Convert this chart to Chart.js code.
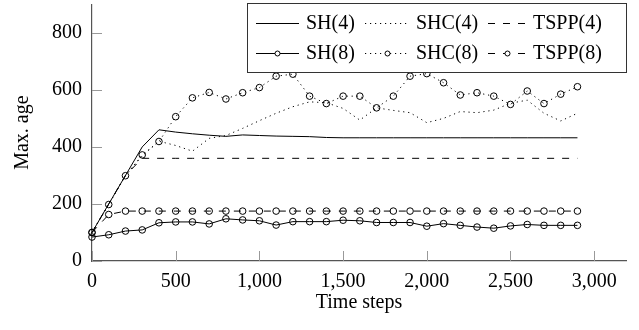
<!DOCTYPE html>
<html><head><meta charset="utf-8">
<script src="https://cdn.jsdelivr.net/npm/chart.js@4.4.1/dist/chart.umd.min.js"></script>
<style>html,body{margin:0;padding:0;background:#fff}#wrap{width:639px;height:330px}</style>
</head><body><div id="wrap"><canvas id="c" width="639" height="330"></canvas></div>
<script>
const steps  = [0,100,200,300,400,500,600,700,800,900,1000,1100,1200,1300,1400,1500,1600,1700,1800,1900,2000,2100,2200,2300,2400,2500,2600,2700,2800,2900];
const sh4    = [100,200,300,400,460,452,446,441,437,442,440,438,437,436,433,432,432,432,432,432,432,432,432,432,432,432,432,432,432,432];
const shc4   = [100,200,300,368,420,405,385,430,440,465,492,518,541,558,555,535,494,537,528,520,485,500,524,520,529,553,564,518,491,518];
const tspp4  = [100,200,300,360,360,360,360,360,360,360,360,360,360,360,360,360,360,360,360,360,360,360,360,360,360,360,360,360,360,360];
const sh8    = [84,92,105,109,134,137,137,130,148,144,141,126,138,138,138,143,141,135,135,135,122,131,125,119,115,123,128,125,125,125];
const shc8   = [100,198,299,372,419,506,572,591,568,590,608,648,655,578,552,578,578,537,578,648,657,625,582,590,578,549,596,552,585,611];
const tspp8  = [100,163,175,175,175,175,175,175,175,175,175,175,175,175,175,175,175,175,175,175,175,175,175,175,175,175,175,175,175,175];
const seriesNames = ['SH(4)','SHC(4)','TSPP(4)','SH(8)','SHC(8)','TSPP(8)'];
const xTicks = [0,500,1000,1500,2000,2500,3000];
const xTickLabels = ['0','500','1,000','1,500','2,000','2,500','3,000'];
const yTicks = [0,200,400,600,800];
const yTickLabels = ['0','200','400','600','800'];

const FONT = {family:'"Liberation Serif","DejaVu Serif",serif', size:20};
const DOT = [1.2,3.8], DASH = [7,8];
function pts(arr){ return steps.map((s,i)=>({x:s,y:arr[i]})); }
function ds(label, arr, dash, marker){
  return {label, data:pts(arr), borderColor:'#000', borderWidth:1, borderDash:dash,
    pointRadius: marker?3.3:0, pointHoverRadius: marker?3.3:0, pointStyle:'circle',
    pointBorderColor:'#000', pointBackgroundColor:'rgba(0,0,0,0)', pointBorderWidth:1,
    tension:0, fill:false, clip:false};
}
const datasets = [
  ds(seriesNames[0], sh4, [], false),
  ds(seriesNames[1], shc4, DOT, false),
  ds(seriesNames[2], tspp4, DASH, false),
  ds(seriesNames[3], sh8, [], true),
  ds(seriesNames[4], shc8, DOT, true),
  ds(seriesNames[5], tspp8, DASH, true)
];

const tickMarks = {
  id:'tickMarks',
  beforeDatasetsDraw(chart){
    const {ctx, chartArea:a, scales:{x,y}} = chart;
    ctx.save(); ctx.strokeStyle='#999'; ctx.lineWidth=1;
    xTicks.forEach(v=>{ const px=Math.round(x.getPixelForValue(v))+0.5; ctx.beginPath(); ctx.moveTo(px,a.bottom); ctx.lineTo(px,a.bottom-10); ctx.stroke(); });
    yTicks.forEach(v=>{ const py=Math.round(y.getPixelForValue(v))+0.5; ctx.beginPath(); ctx.moveTo(a.left,py); ctx.lineTo(a.left+10,py); ctx.stroke(); });
    ctx.restore();
  }
};
const boxLegend = {
  id:'boxLegend',
  afterDraw(chart){
    const ctx = chart.ctx;
    ctx.save();
    ctx.fillStyle='#fff'; ctx.fillRect(247.5,3.5,379,69);
    ctx.strokeStyle='#333'; ctx.lineWidth=1; ctx.setLineDash([]); ctx.strokeRect(247.5,3.5,379,69);
    const rows=[23,53];
    const cols=[{l:256,r:299,t:306},{l:365,r:410,t:416},{l:488,r:527,t:533}];
    ctx.font = '20px "Liberation Serif","DejaVu Serif",serif';
    ctx.textBaseline='middle'; ctx.textAlign='left';
    chart.data.datasets.forEach((d,i)=>{
      const row=Math.floor(i/3), col=cols[i%3], yy=rows[row]+0.5;
      ctx.strokeStyle='#000'; ctx.lineWidth=1; ctx.setLineDash(d.borderDash||[]);
      ctx.beginPath(); ctx.moveTo(col.l,yy); ctx.lineTo(col.r,yy); ctx.stroke();
      ctx.setLineDash([]);
      if(d.pointRadius>0){ ctx.beginPath(); ctx.arc((col.l+col.r)/2, yy, 2.5, 0, Math.PI*2);
        ctx.fillStyle='#fff'; ctx.fill(); ctx.stroke(); }
      ctx.fillStyle='#000'; ctx.fillText(d.label, col.t, rows[row]+1);
    });
    ctx.restore();
  }
};

new Chart(document.getElementById('c'), {
  type:'line',
  data:{datasets},
  plugins:[tickMarks, boxLegend],
  options:{
    responsive:false, animation:false, devicePixelRatio:1,
    layout:{padding:{left:0,right:13,top:1,bottom:0}},
    plugins:{legend:{display:false}, tooltip:{enabled:false}},
    scales:{
      x:{type:'linear', min:0, max:3190,
        afterBuildTicks(s){ s.ticks = xTicks.map(v=>({value:v})); },
        afterFit(s){ s.height = 69; s.paddingLeft = 0; s.paddingRight = 0; },
        ticks:{callback:(v)=>xTickLabels[xTicks.indexOf(v)] ?? '', font:FONT, color:'#000', padding:9, maxRotation:0, autoSkip:false},
        grid:{display:false, drawTicks:false},
        border:{display:true, color:'#555', width:1.2},
        title:{display:true, text:'Time steps', font:FONT, color:'#000', padding:{top:0,bottom:15}}
      },
      y:{min:0, max:900,
        afterBuildTicks(s){ s.ticks = yTicks.map(v=>({value:v})); },
        afterFit(s){ s.width = 92; s.paddingTop = 0; s.paddingBottom = 0; },
        ticks:{callback:(v)=>yTickLabels[yTicks.indexOf(v)] ?? '', font:FONT, color:'#000', padding:10},
        grid:{display:false, drawTicks:false},
        border:{display:true, color:'#555', width:1.2},
        title:{display:true, text:'Max. age', font:FONT, color:'#000', padding:{top:11,bottom:0}}
      }
    }
  }
});
</script></body></html>
